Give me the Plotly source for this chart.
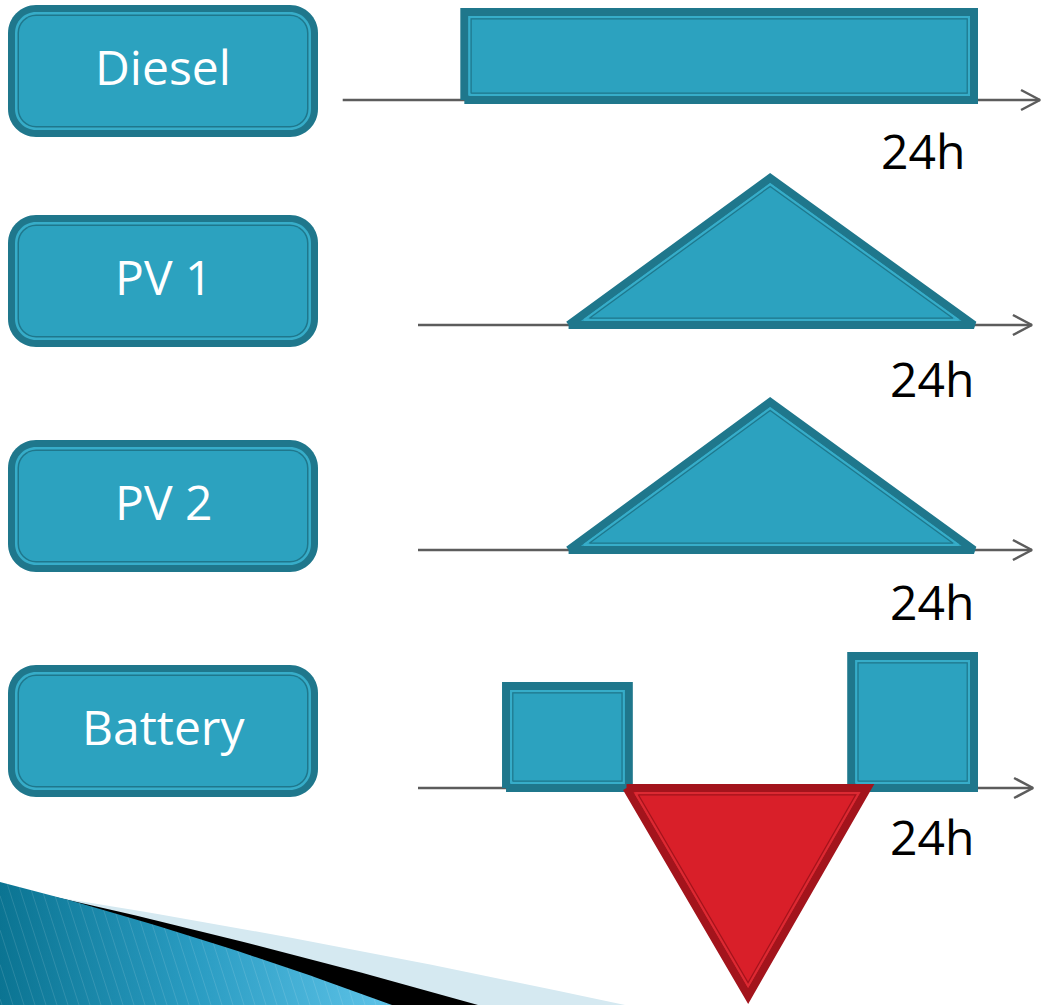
import numpy as np
import plotly.graph_objects as go

W, H = 1042, 1005

# ---- data -------------------------------------------------------------
sources = ["Diesel", "PV 1", "PV 2", "Battery"]
period_label = "24h"

# output profiles over one day: hours vs. output level (kW)
diesel_hours = [2.0, 2.0, 24.0, 24.0]
diesel_kw = [0.0, 8.8, 8.8, 0.0]

pv1_hours = [6.5, 15.2, 24.0]
pv1_kw = [0.0, 14.7, 0.0]

pv2_hours = [6.5, 15.2, 24.0]
pv2_kw = [0.0, 14.8, 0.0]

battery_morning_hours = [3.8, 3.8, 9.1, 9.1]
battery_morning_kw = [0.0, 10.2, 10.2, 0.0]

battery_evening_hours = [18.7, 18.7, 24.0, 24.0]
battery_evening_kw = [0.0, 13.2, 13.2, 0.0]

battery_midday_hours = [9.0, 14.25, 19.4]
battery_midday_kw = [0.0, -20.8, 0.0]

# ---- layout constants ------------------------------------------------
PX_PER_HOUR = 556 / 24.0
ORIGIN_PX = 418.0
PX_PER_KW = 10.0
BASELINE_PX = [100, 325, 550, 788]
AXIS_START_H = [-3.25, 0.0, 0.0, 0.0]
AXIS_END_H = [26.85, 26.5, 26.5, 26.55]

TEAL = "#2ca2bf"
TEAL_EDGE = "#1f778c"
TEAL_STRIPE = "#37adc9"
RED = "#d91f29"
RED_EDGE = "#a3141c"
RED_STRIPE = "#dc2a33"
AXIS_GREY = "#5c5c5c"
FONT = "Open Sans"

LABEL_X0, LABEL_X1 = 8, 318
LABEL_TOPS = [5, 215, 440, 665]
LABEL_H = 132
PERIOD_POS = [(923, 150), (932, 378), (932, 601), (932, 836)]

fig = go.Figure()


def yname(row):
    return "y" if row == 0 else f"y{row + 1}"


def to_px(h, kw, row):
    return ORIGIN_PX + np.asarray(h) * PX_PER_HOUR, BASELINE_PX[row] - np.asarray(kw) * PX_PER_KW


def from_px(x, y, row):
    return (np.asarray(x) - ORIGIN_PX) / PX_PER_HOUR, (BASELINE_PX[row] - np.asarray(y)) / PX_PER_KW


def inset(poly, d):
    """Offset a convex polygon (pixel space) inward by d pixels."""
    P = np.asarray(poly, float)
    n = len(P)
    area = 0.5 * np.sum(P[:, 0] * np.roll(P[:, 1], -1) - np.roll(P[:, 0], -1) * P[:, 1])
    sgn = 1.0 if area > 0 else -1.0
    lines = []
    for i in range(n):
        a, b = P[i], P[(i + 1) % n]
        t = (b - a) / np.linalg.norm(b - a)
        nrm = np.array([-t[1], t[0]]) * sgn
        lines.append((a + nrm * d, t))
    out = []
    for i in range(n):
        p1, t1 = lines[i - 1]
        p2, t2 = lines[i]
        A = np.array([t1, -t2]).T
        s, _ = np.linalg.solve(A, p2 - p1)
        out.append(p1 + s * t1)
    return np.array(out)


def add_block(hours, kw, row, fill, edge, stripe):
    ya = yname(row)
    fig.add_trace(go.Scatter(
        x=list(hours) + [hours[0]], y=list(kw) + [kw[0]], yaxis=ya,
        mode="lines", fill="toself", fillcolor=fill,
        line=dict(color=edge, width=8), hoverinfo="skip"))
    px, py = to_px(hours, kw, row)
    pts = np.column_stack([px, py])
    for d, col, w in [(5.0, stripe, 2.0), (6.8, edge, 1.2)]:
        q = inset(pts, d)
        q = np.vstack([q, q[:1]])
        hx, ky = from_px(q[:, 0], q[:, 1], row)
        fig.add_trace(go.Scatter(x=hx, y=ky, yaxis=ya, mode="lines",
                                 line=dict(color=col, width=w), hoverinfo="skip"))


# ---- decorative swoosh (pixel-space overlay axes) ---------------------
def qbez(p0, p1, p2, n=40):
    t = np.linspace(0, 1, n)[:, None]
    p0, p1, p2 = map(np.asarray, (p0, p1, p2))
    return (1 - t) ** 2 * p0 + 2 * (1 - t) * t * p1 + t ** 2 * p2


light = qbez((30, 893), (300, 935), (625, 1005))
light = np.vstack([light, [[0, 1005], [0, 893], [30, 893]]])
fig.add_trace(go.Scatter(x=light[:, 0], y=light[:, 1], xaxis="x2", yaxis="y5",
                         mode="lines", fill="toself", fillcolor="#d5e9f1",
                         line=dict(width=0, color="#d5e9f1"), hoverinfo="skip"))

dark = qbez((20, 889), (250, 940), (478, 1005))
dark = np.vstack([dark, [[0, 1005], [0, 886], [20, 889]]])
fig.add_trace(go.Scatter(x=dark[:, 0], y=dark[:, 1], xaxis="x2", yaxis="y5",
                         mode="lines", fill="toself", fillcolor="#000000",
                         line=dict(width=0, color="#000000"), hoverinfo="skip"))

top = qbez((0, 882), (190, 930), (392, 1005))
blue = np.vstack([top, [[0, 1005], [0, 882]]])
fig.add_trace(go.Scatter(x=blue[:, 0], y=blue[:, 1], xaxis="x2", yaxis="y5",
                         mode="lines", fill="toself", fillcolor="#2a9cc0",
                         fillgradient=dict(type="horizontal",
                                           colorscale=[[0, "#0b7492"], [0.5, "#2a9cc2"], [1, "#5ec3e8"]]),
                         line=dict(width=0, color="#2a9cc0"), hoverinfo="skip"))

# fine diagonal texture on the swoosh
sx, sy = [], []
ys = np.linspace(1005, 880, 400)
for xb in np.arange(-20, 392, 11):
    xl = xb - 0.32 * (1005 - ys)
    ytop = np.interp(xl, top[:, 0], top[:, 1], left=882, right=1005)
    inside = (ys >= ytop) & (xl >= 0)
    if inside.sum() < 2:
        continue
    sx += [xl[inside][0], xl[inside][-1], None]
    sy += [ys[inside][0], ys[inside][-1], None]
fig.add_trace(go.Scatter(x=sx, y=sy, xaxis="x2", yaxis="y5", mode="lines",
                         line=dict(color="rgba(255,255,255,0.12)", width=1), hoverinfo="skip"))

# ---- time axes with open arrow heads ----------------------------------
for row in range(4):
    ya = yname(row)
    fig.add_trace(go.Scatter(x=[AXIS_START_H[row], AXIS_END_H[row]], y=[0, 0], yaxis=ya,
                             mode="lines", line=dict(color=AXIS_GREY, width=2.5), hoverinfo="skip"))
    tx, ty = to_px(AXIS_END_H[row], 0, row)
    ax_, ay_ = from_px([tx - 19, tx, tx - 19], [ty - 10, ty, ty + 10], row)
    fig.add_trace(go.Scatter(x=ax_, y=ay_, yaxis=ya, mode="lines",
                             line=dict(color=AXIS_GREY, width=2.5), hoverinfo="skip"))

# ---- source profiles ---------------------------------------------------
add_block(diesel_hours, diesel_kw, 0, TEAL, TEAL_EDGE, TEAL_STRIPE)
add_block(pv1_hours, pv1_kw, 1, TEAL, TEAL_EDGE, TEAL_STRIPE)
add_block(pv2_hours, pv2_kw, 2, TEAL, TEAL_EDGE, TEAL_STRIPE)
add_block(battery_morning_hours, battery_morning_kw, 3, TEAL, TEAL_EDGE, TEAL_STRIPE)
add_block(battery_evening_hours, battery_evening_kw, 3, TEAL, TEAL_EDGE, TEAL_STRIPE)
add_block(battery_midday_hours, battery_midday_kw, 3, RED, RED_EDGE, RED_STRIPE)


# ---- source name tiles ---------------------------------------------------
def rrect(x0, y0, x1, y1, r):
    k = 0.5523 * r
    return (f"M {x0 + r},{y0} L {x1 - r},{y0} C {x1 - r + k},{y0} {x1},{y0 + r - k} {x1},{y0 + r} "
            f"L {x1},{y1 - r} C {x1},{y1 - r + k} {x1 - r + k},{y1} {x1 - r},{y1} "
            f"L {x0 + r},{y1} C {x0 + r - k},{y1} {x0},{y1 - r + k} {x0},{y1 - r} "
            f"L {x0},{y0 + r} C {x0},{y0 + r - k} {x0 + r - k},{y0} {x0 + r},{y0} Z")


shapes = []
annotations = []
for row, name in enumerate(sources):
    y0 = LABEL_TOPS[row]
    y1 = y0 + LABEL_H
    for d, col in [(0, TEAL_EDGE), (7, TEAL_STRIPE), (9.5, TEAL_EDGE), (11, TEAL)]:
        shapes.append(dict(type="path", xref="x2", yref="y5", layer="above",
                           path=rrect(LABEL_X0 + d, y0 + d, LABEL_X1 - d, y1 - d, 28 - d),
                           fillcolor=col, line=dict(width=0)))
    annotations.append(dict(x=(LABEL_X0 + LABEL_X1) / 2, y=(y0 + y1) / 2 - 5, xref="x2", yref="y5",
                            text=name, showarrow=False, xanchor="center", yanchor="middle",
                            font=dict(family=FONT, size=48, color="white")))
    px_, py_ = PERIOD_POS[row]
    annotations.append(dict(x=px_, y=py_, xref="x2", yref="y5", text=period_label,
                            showarrow=False, xanchor="center", yanchor="middle",
                            font=dict(family=FONT, size=48, color="black")))

hidden = dict(visible=False, showgrid=False, zeroline=False, fixedrange=True)
layout_axes = dict(
    xaxis=dict(range=[-ORIGIN_PX / PX_PER_HOUR, (W - ORIGIN_PX) / PX_PER_HOUR],
               domain=[0, 1], anchor="y", **hidden),
    xaxis2=dict(range=[0, W], domain=[0, 1], overlaying="x", anchor="y5", **hidden),
    yaxis5=dict(range=[H, 0], domain=[0, 1], overlaying="y", anchor="x2", **hidden),
)
for row in range(4):
    b = BASELINE_PX[row]
    ax = dict(range=[-(H - b) / PX_PER_KW, b / PX_PER_KW], domain=[0, 1], anchor="x", **hidden)
    if row > 0:
        ax["overlaying"] = "y"
    layout_axes["yaxis" if row == 0 else f"yaxis{row + 1}"] = ax

fig.update_layout(
    width=W, height=H,
    margin=dict(l=0, r=0, t=0, b=0, pad=0),
    paper_bgcolor="white", plot_bgcolor="white",
    showlegend=False,
    shapes=shapes,
    annotations=annotations,
    **layout_axes,
)

fig.write_html("out.html", config={"displayModeBar": False})
